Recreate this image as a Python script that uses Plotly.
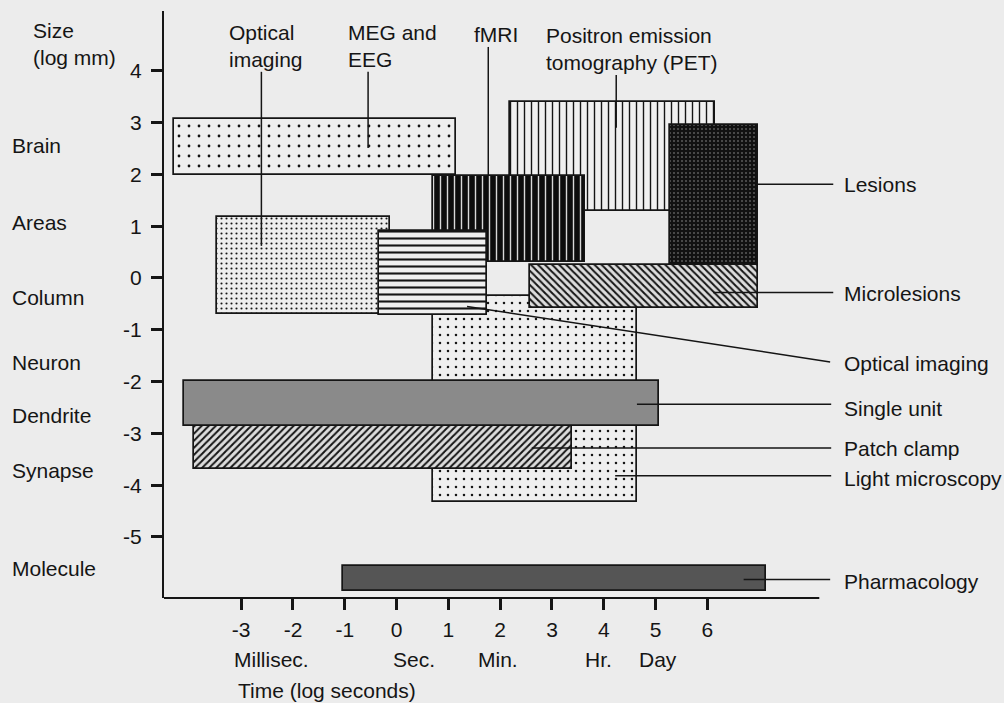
import plotly.graph_objects as go

# ---------------- data (log units) ----------------
methods = ["MEG and EEG", "Optical imaging (upper)", "PET", "fMRI", "Light microscopy",
           "Optical imaging (lower)", "Lesions", "Microlesions", "Patch clamp",
           "Single unit", "Pharmacology"]
time_start = [-4.29, -3.46, 2.18, 0.70, 0.70, -0.34, 5.28, 2.57, -3.92, -4.11, -1.03]
time_end   = [1.14, -0.12, 6.15, 3.64, 4.64, 1.74, 6.97, 6.97, 3.38, 5.07, 7.13]
size_low   = [1.99, -0.70, 1.30, 0.30, -4.32, -0.71, 0.25, -0.58, -3.69, -2.85, -6.04]
size_high  = [3.07, 1.18, 3.40, 1.97, -0.34, 0.91, 2.95, 0.25, -2.84, -1.99, -5.56]

# scale labels
size_levels = ["Brain", "Areas", "Column", "Neuron", "Dendrite", "Synapse", "Molecule"]
size_level_log = [2.55, 1.08, -0.38, -1.64, -2.66, -3.72, -5.60]

time_units = ["Millisec.", "Sec.", "Min.", "Hr.", "Day"]
time_unit_log = [-3.15, -0.09, 1.55, 3.62, 4.66]

x_ticks = [-3, -2, -1, 0, 1, 2, 3, 4, 5, 6]
y_ticks = [-5, -4, -3, -2, -1, 0, 1, 2, 3, 4]

# top labels: text, label time, label size, leader x, leader top, leader bottom
top_labels = ["Optical<br>imaging", "MEG and<br>EEG", "fMRI", "Positron emission<br>tomography (PET)"]
top_label_t = [-3.25, -0.96, 1.48, 2.87]
top_label_v = [4.48, 4.47, 4.71, 4.42]
top_leader_t = [-2.61, -0.55, 1.77, 4.24]
top_leader_v0 = [3.98, 3.98, 4.46, 3.92]
top_leader_v1 = [0.62, 2.51, 1.97, 2.90]

# right labels
right_labels = ["Lesions", "Microlesions", "Optical imaging", "Single unit",
                "Patch clamp", "Light microscopy", "Pharmacology"]
right_label_v = [1.80, -0.30, -1.66, -2.52, -3.30, -3.88, -5.85]
right_head_t = [6.97, 6.11, 1.36, 4.64, 2.61, 4.22, 6.70]
right_head_v = [1.81, -0.28, -0.55, -2.44, -3.28, -3.82, -5.82]
right_tail_t = [8.43, 8.43, 8.37, 8.39, 8.39, 8.39, 8.37]
right_tail_v = [1.81, -0.28, -1.62, -2.44, -3.28, -3.82, -5.82]
right_label_t = 8.61

# ---------------- styles ----------------
INK = "#151515"
PAPER = "#ececec"
styles = {
    "MEG and EEG":             dict(shape=".", bg="#efefef", fg=INK, size=10, sol=0.06),
    "Optical imaging (upper)": dict(shape=".", bg="#eeeeee", fg=INK, size=5, sol=0.14),
    "PET":                     dict(shape="|", bg="#f0f0f0", fg=INK, size=7, sol=0.2),
    "fMRI":                    dict(shape="|", bg="#0d0d0d", fg="#d8d8d8", size=7, sol=0.2),
    "Light microscopy":        dict(shape=".", bg="#efefef", fg=INK, size=8, sol=0.08),
    "Optical imaging (lower)": dict(shape="-", bg="#efefef", fg=INK, size=7, sol=0.3),
    "Lesions":                 dict(shape=".", bg="#111111", fg="#9a9a9a", size=4, sol=0.11),
    "Microlesions":            dict(shape="\\", bg="#dddddd", fg=INK, size=5, sol=0.4),
    "Patch clamp":             dict(shape="/", bg="#dddddd", fg=INK, size=5, sol=0.4),
    "Single unit":             dict(shape="", bg="#8a8a8a", fg="#8a8a8a", size=4, sol=0.2),
    "Pharmacology":            dict(shape="", bg="#555555", fg="#555555", size=4, sol=0.2),
}

FONT = "Liberation Sans, Arial, Helvetica, sans-serif"
FS = 21

fig = go.Figure()

for name, t0, t1, v0, v1 in zip(methods, time_start, time_end, size_low, size_high):
    s = styles[name]
    marker = dict(color=s["bg"], line=dict(color=INK, width=1.7))
    if s["shape"]:
        marker["pattern"] = dict(shape=s["shape"], bgcolor=s["bg"], fgcolor=s["fg"],
                                 size=s["size"], solidity=s["sol"], fillmode="replace")
    fig.add_trace(go.Bar(
        x=[(t0 + t1) / 2], width=[t1 - t0], base=[v0], y=[v1 - v0],
        marker=marker, name=name, showlegend=False, hoverinfo="name",
    ))

# leader lines
for t, a, b in zip(top_leader_t, top_leader_v0, top_leader_v1):
    fig.add_trace(go.Scatter(x=[t, t], y=[a, b], mode="lines",
                             line=dict(color=INK, width=1.5), showlegend=False, hoverinfo="skip"))
for ht, hv, tt, tv in zip(right_head_t, right_head_v, right_tail_t, right_tail_v):
    fig.add_trace(go.Scatter(x=[ht, tt], y=[hv, tv], mode="lines",
                             line=dict(color=INK, width=1.5), showlegend=False, hoverinfo="skip"))

ann = []
for txt, t, v in zip(top_labels, top_label_t, top_label_v):
    ann.append(dict(text=txt, x=t, y=v, xref="x", yref="y", xanchor="left", yanchor="middle",
                    align="left", showarrow=False, borderpad=0))
for txt, v in zip(right_labels, right_label_v):
    ann.append(dict(text=txt, x=right_label_t, y=v, xref="x", yref="y", xanchor="left",
                    yanchor="middle", showarrow=False, borderpad=0))
for txt, v in zip(size_levels, size_level_log):
    ann.append(dict(text=txt, x=-0.182, y=v, xref="paper", yref="y", xanchor="left",
                    yanchor="middle", showarrow=False, borderpad=0))
ann.append(dict(text="Size<br>(log mm)", x=-0.157, y=4.51, xref="paper", yref="y",
                xanchor="left", yanchor="middle", align="left", showarrow=False, borderpad=0))
for txt, t in zip(time_units, time_unit_log):
    ann.append(dict(text=txt, x=t, y=-0.104, xref="x", yref="paper", xanchor="left",
                    yanchor="middle", showarrow=False, borderpad=0))
ann.append(dict(text="Time (log seconds)", x=-3.08, y=-0.157, xref="x", yref="paper",
                xanchor="left", yanchor="middle", showarrow=False, borderpad=0))

# x axis baseline (stops short of the right-hand labels)
shapes = [dict(type="line", xref="x", yref="paper", x0=-4.6, x1=8.16, y0=0, y1=0,
               line=dict(color=INK, width=1.8))]

fig.update_layout(
    width=1004, height=703,
    margin=dict(l=164, r=0, t=11, b=105),
    paper_bgcolor=PAPER, plot_bgcolor=PAPER,
    barmode="overlay", bargap=0,
    font=dict(family=FONT, size=FS, color=INK),
    annotations=ann, shapes=shapes,
    showlegend=False,
    xaxis=dict(range=[-4.49, 11.726], showgrid=False, zeroline=False, showline=False,
               tickmode="array", tickvals=x_ticks, ticktext=[str(v) for v in x_ticks],
               ticks="outside", ticklen=11, tickwidth=3, tickcolor=INK,
               ticklabelstandoff=2,
               tickfont=dict(family=FONT, size=FS, color=INK)),
    yaxis=dict(range=[-6.178, 5.154], showgrid=False, zeroline=False, showline=True,
               linecolor=INK, linewidth=2,
               tickmode="array", tickvals=y_ticks, ticktext=[str(v) for v in y_ticks],
               ticks="outside", ticklen=11, tickwidth=3, tickcolor=INK,
               ticklabelstandoff=5,
               tickfont=dict(family=FONT, size=FS, color=INK)),
)

fig.write_html("out.html",
               config={"displayModeBar": False},
               post_script="document.body.style.margin='0';document.body.style.padding='0';"
                           "document.body.style.overflow='hidden';"
                           "document.body.style.background='" + PAPER + "';")
